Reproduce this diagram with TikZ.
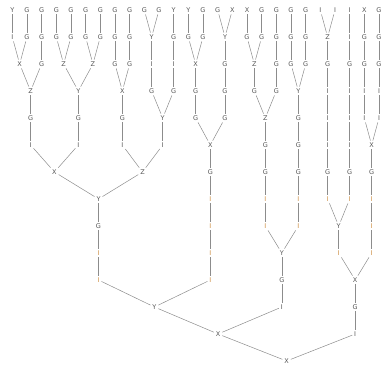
\documentclass[tikz,border=0pt]{standalone}
\usepackage{fontspec}
\setmainfont{DejaVu Sans}
\definecolor{labgray}{RGB}{85,85,85}
\definecolor{iorange}{RGB}{204,140,64}
\newcommand\oI{\textcolor{iorange}{I}}
% one vertical run of nodes: name, x, first row, labels
\newcommand\chain[4]{%
  \foreach \lab [count=\k from #3] in {#4}{%
    \node[lbl] (#1-\k) at (#2,{357-27*\k}) {\lab};
    \ifnum\k>#3\relax
      \pgfmathtruncatemacro\j{\k-1}%
      \draw[edge] (#1-\j) -- (#1-\k);
    \fi}}

\begin{document}
\begin{tikzpicture}[
  x=1pt, y=1pt,
  lbl/.style={font=\fontsize{6.5}{7}\selectfont, text=labgray, inner sep=1.8pt},
  edge/.style={draw=black!45, line width=0.5pt}
]
\useasboundingbox (0,0) rectangle (382,367);
% leaves and their runs
\chain{t0}{12.3}{0}{Y,I}
\chain{t1}{27.0}{0}{G,G}
\chain{t2}{41.6}{0}{G,G,G}
\chain{t3}{56.3}{0}{G,G}
\chain{t4}{71.0}{0}{G,G}
\chain{t5}{85.6}{0}{G,G}
\chain{t6}{100.3}{0}{G,G}
\chain{t7}{115.0}{0}{G,G,G}
\chain{t8}{129.7}{0}{G,G,G}
\chain{t9}{144.3}{0}{G}
\chain{t10}{159.0}{0}{G}
\chain{t11}{173.7}{0}{Y,G,I,G}
\chain{t12}{188.3}{0}{Y,G}
\chain{t13}{203.0}{0}{G,G}
\chain{t14}{217.7}{0}{G}
\chain{t15}{232.3}{0}{X}
\chain{t16}{247.0}{0}{X,G}
\chain{t17}{261.7}{0}{G,G}
\chain{t18}{276.3}{0}{G,G,G,G}
\chain{t19}{291.0}{0}{G,G,G}
\chain{t20}{305.7}{0}{G,G,G}
\chain{t21}{320.3}{0}{I}
\chain{t22}{335.0}{0}{I}
\chain{t23}{349.7}{0}{I,I,G,I,I,I,G,\oI}
\chain{t24}{364.3}{0}{X,G,G,I,I}
\chain{t25}{379.0}{0}{G,G,G,I,I}
% inner runs, one per merge
\chain{n1}{19.65}{2}{X}
\chain{n2}{30.6}{3}{Z,G,I}
\chain{n3}{63.65}{2}{Z}
\chain{n4}{92.95}{2}{Z}
\chain{n5}{78.3}{3}{Y,G,I}
\chain{n6}{54.45}{6}{X}
\chain{n7}{122.35}{3}{X,G,I}
\chain{n8}{151.65}{1}{Y,I,G}
\chain{n9}{162.7}{4}{Y,I}
\chain{n10}{142.5}{6}{Z}
\chain{n11}{98.5}{7}{Y,G,\oI,\oI}
\chain{n12}{195.65}{2}{X,G,G}
\chain{n13}{225.0}{1}{Y,G,G,G}
\chain{n14}{210.3}{5}{X,G,\oI,\oI,\oI,\oI}
\chain{n15}{154.4}{11}{Y}
\chain{n16}{254.35}{2}{Z,G}
\chain{n17}{265.3}{4}{Z,G,G,\oI,\oI}
\chain{n18}{298.35}{3}{Y,G,G,G,\oI,\oI}
\chain{n19}{281.8}{9}{Y,G,I}
\chain{n20}{218.1}{12}{X}
\chain{n21}{327.65}{1}{Z,G,I,I,I,G,\oI}
\chain{n22}{338.7}{8}{Y,\oI}
\chain{n23}{371.65}{5}{X,G,\oI,\oI,\oI}
\chain{n24}{355.2}{10}{X,G,I}
\chain{n25}{286.6}{13}{X}
% merges
\foreach \a/\b in {t0-1/n1-2, t1-1/n1-2, n1-2/n2-3, t2-2/n2-3,
    t3-1/n3-2, t4-1/n3-2, t5-1/n4-2, t6-1/n4-2, n3-2/n5-3, n4-2/n5-3,
    n2-5/n6-6, n5-5/n6-6, t7-2/n7-3, t8-2/n7-3, t9-0/n8-1, t10-0/n8-1,
    n8-3/n9-4, t11-3/n9-4, n7-5/n10-6, n9-5/n10-6, n6-6/n11-7, n10-6/n11-7,
    t12-1/n12-2, t13-1/n12-2, t14-0/n13-1, t15-0/n13-1, n12-4/n14-5, n13-4/n14-5,
    n11-10/n15-11, n14-10/n15-11, t16-1/n16-2, t17-1/n16-2, n16-3/n17-4, t18-3/n17-4,
    t19-2/n18-3, t20-2/n18-3, n17-8/n19-9, n18-8/n19-9, n15-11/n20-12, n19-11/n20-12,
    t21-0/n21-1, t22-0/n21-1, n21-7/n22-8, t23-7/n22-8, t24-4/n23-5, t25-4/n23-5,
    n22-9/n24-10, n23-9/n24-10, n20-12/n25-13, n24-12/n25-13}
  \draw[edge] (\a) -- (\b);
\end{tikzpicture}
\end{document}
